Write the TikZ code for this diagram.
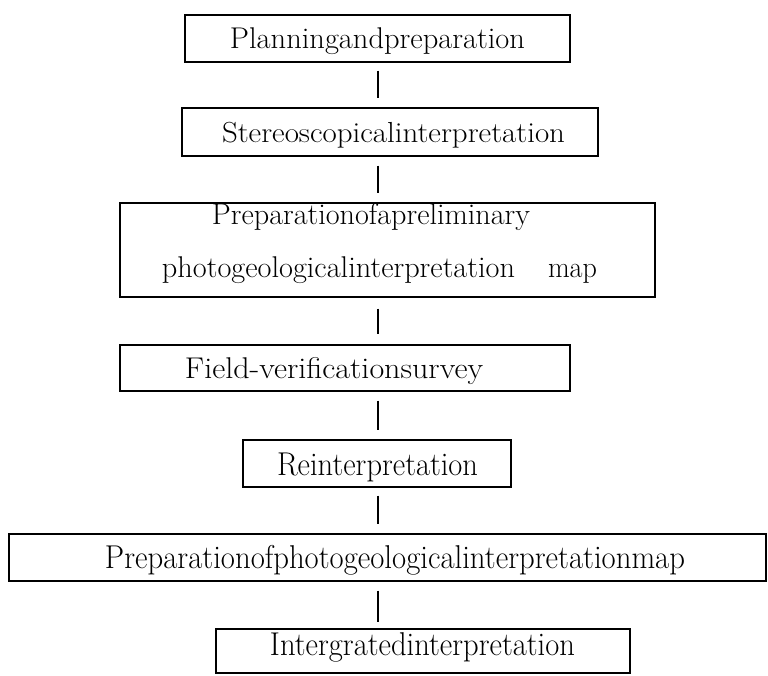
\documentclass[tikz,border=0pt]{standalone}
\usepackage{graphicx}
\usetikzlibrary{calc}
\newcommand\fitw[3]{\resizebox{#1pt}{\height}{\fontsize{#2pt}{#2pt}\selectfont #3}}
\begin{document}
\begin{tikzpicture}[x=1pt,y=-1pt,
  box/.style={draw, line width=1.1pt, inner sep=0pt},
  lbl/.style={anchor=base, inner sep=0pt},
  link/.style={line width=1.8pt}]
\useasboundingbox[fill=white] (0,0) rectangle (768,675);
% boxes
\node[box, minimum width=385pt, minimum height=47pt] (b1) at (377.5,38.5) {};
\node[box, minimum width=416pt, minimum height=48pt] (b2) at (390,132) {};
\node[box, minimum width=535pt, minimum height=94pt] (b3) at (387.5,250) {};
\node[box, minimum width=450pt, minimum height=46pt] (b4) at (345,368) {};
\node[box, minimum width=268pt, minimum height=47pt] (b5) at (377,463.5) {};
\node[box, minimum width=757pt, minimum height=47pt] (b6) at (387.5,557.5) {};
\node[box, minimum width=414pt, minimum height=44pt] (b7) at (423,651) {};
% texts
\node[lbl] (t1) at (377.5,48) {\fitw{295}{30}{Planningandpreparation}};
\node[lbl] (t2) at (393.5,142) {\fitw{343}{29}{Stereoscopicalinterpretation}};
\node[lbl] (t3a) at (371,224) {\fitw{318}{30}{Preparationofapreliminary}};
\node[lbl] (t3b) at (338.5,277) {\fitw{353}{30}{photogeologicalinterpretation}};
\node[lbl] (t3c) at (572.5,277) {\fitw{49}{30}{map}};
\node[lbl] (t4) at (334,378) {\fitw{298}{30}{Field-verificationsurvey}};
\node[lbl] (t5) at (377.5,475) {\fitw{201}{33}{Reinterpretation}};
\node[lbl] (t6) at (395,568) {\fitw{580}{33}{Preparationofphotogeologicalinterpretationmap}};
\node[lbl] (t7) at (422.5,655) {\fitw{305}{33}{Intergratedinterpretation}};
% connectors
\coordinate (cx) at (378,0);
\draw[link] ($(b1.south -| cx)+(0,8)$) -- ($(b2.north -| cx)+(0,-9)$);
\draw[link] ($(b2.south -| cx)+(0,9)$) -- ($(b3.north -| cx)+(0,-9)$);
\draw[link] ($(b3.south -| cx)+(0,11)$) -- ($(b4.north -| cx)+(0,-10)$);
\draw[link] ($(b4.south -| cx)+(0,9)$) -- ($(b5.north -| cx)+(0,-9)$);
\draw[link] ($(b5.south -| cx)+(0,8)$) -- ($(b6.north -| cx)+(0,-9)$);
\draw[link] ($(b6.south -| cx)+(0,9)$) -- ($(b7.north -| cx)+(0,-6)$);
\end{tikzpicture}
\end{document}
